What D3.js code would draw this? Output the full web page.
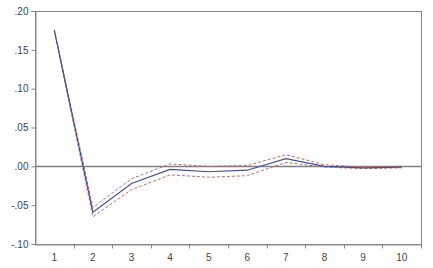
<!DOCTYPE html>
<html>
<head>
<meta charset="utf-8">
<script src="https://cdnjs.cloudflare.com/ajax/libs/d3/7.8.5/d3.min.js"></script>
<style>
    body { margin: 0; background: #fff; }
    svg text { font-family: "Liberation Sans", Arial, sans-serif; font-size: 10px; fill: #444; }
</style>
</head>
<body>
<svg id="chart" width="433" height="268"></svg>
<script>
(function () {
    'use strict';

    // data
    var periods = [1, 2, 3, 4, 5, 6, 7, 8, 9, 10];
    var response = [0.175, -0.059, -0.022, -0.004, -0.007, -0.005, 0.010, 0.000, -0.002, -0.001];
    var upperBand = [0.176, -0.053, -0.016, 0.003, 0.000, 0.001, 0.015, 0.002, -0.001, 0.000];
    var lowerBand = [0.174, -0.065, -0.030, -0.011, -0.014, -0.012, 0.005, -0.001, -0.003, -0.002];
    var yTicks = [-0.10, -0.05, 0.00, 0.05, 0.10, 0.15, 0.20];
    var yTickLabels = ['-.10', '-.05', '.00', '.05', '.10', '.15', '.20'];

    // layout
    var margin = { top: 11, right: 12, bottom: 24, left: 35 },
        width = 433 - margin.left - margin.right,
        height = 268 - margin.top - margin.bottom;

    var svg = d3.select('#chart'),
        g = svg.append('g')
            .attr('transform', 'translate(' + margin.left + ',' + margin.top + ')');

    var x = d3.scaleBand().domain(periods).range([0, width]),
        y = d3.scaleLinear().domain([-0.10, 0.20]).range([height, 0]);

    function cx(d, i) { return x(periods[i]) + x.bandwidth() / 2; }

    // frame
    g.append('rect')
        .attr('x', 0.5).attr('y', 0.5)
        .attr('width', width).attr('height', height)
        .attr('fill', 'none')
        .attr('stroke', '#888');

    // zero line
    g.append('line')
        .attr('x1', 0).attr('x2', width)
        .attr('y1', Math.round(y(0)) + 0.5).attr('y2', Math.round(y(0)) + 0.5)
        .attr('stroke', '#808080')
        .attr('stroke-width', 1.5);

    // y axis
    var yAxis = g.append('g')
        .attr('transform', 'translate(0.5,0)')
        .call(d3.axisLeft(y)
            .tickValues(yTicks)
            .tickFormat(function (d, i) { return yTickLabels[i]; })
            .tickSize(4)
            .tickPadding(3));

    // x axis: ticks on the category boundaries
    var xAxis = g.append('g')
        .attr('transform', 'translate(0,' + (height + 0.5) + ')')
        .call(d3.axisBottom(x).tickSize(0).tickPadding(9));

    xAxis.selectAll('.xb')
        .data(periods)
        .enter().append('line')
        .attr('class', 'xb')
        .attr('x1', function (d, i) { return Math.round(x.step() * (i + 1)) + 0.5; })
        .attr('x2', function (d, i) { return Math.round(x.step() * (i + 1)) + 0.5; })
        .attr('y1', 0).attr('y2', 4)
        .attr('stroke', '#888');

    [yAxis, xAxis].forEach(function (a) {
        a.select('.domain').attr('stroke', '#888');
        a.selectAll('.tick line').attr('stroke', '#888');
        a.selectAll('text').attr('font-size', 10).attr('fill', '#444');
    });

    var line = d3.line()
        .x(cx)
        .y(function (d) { return y(d); });

    // confidence bands
    [upperBand, lowerBand].forEach(function (band) {
        g.append('path')
            .datum(band)
            .attr('d', line)
            .attr('fill', 'none')
            .attr('stroke', '#c06a6a')
            .attr('stroke-width', 1)
            .attr('stroke-dasharray', '3,2');
    });

    // response
    g.append('path')
        .datum(response)
        .attr('d', line)
        .attr('fill', 'none')
        .attr('stroke', '#44518f')
        .attr('stroke-width', 1.2);
}());
</script>
</body>
</html>
